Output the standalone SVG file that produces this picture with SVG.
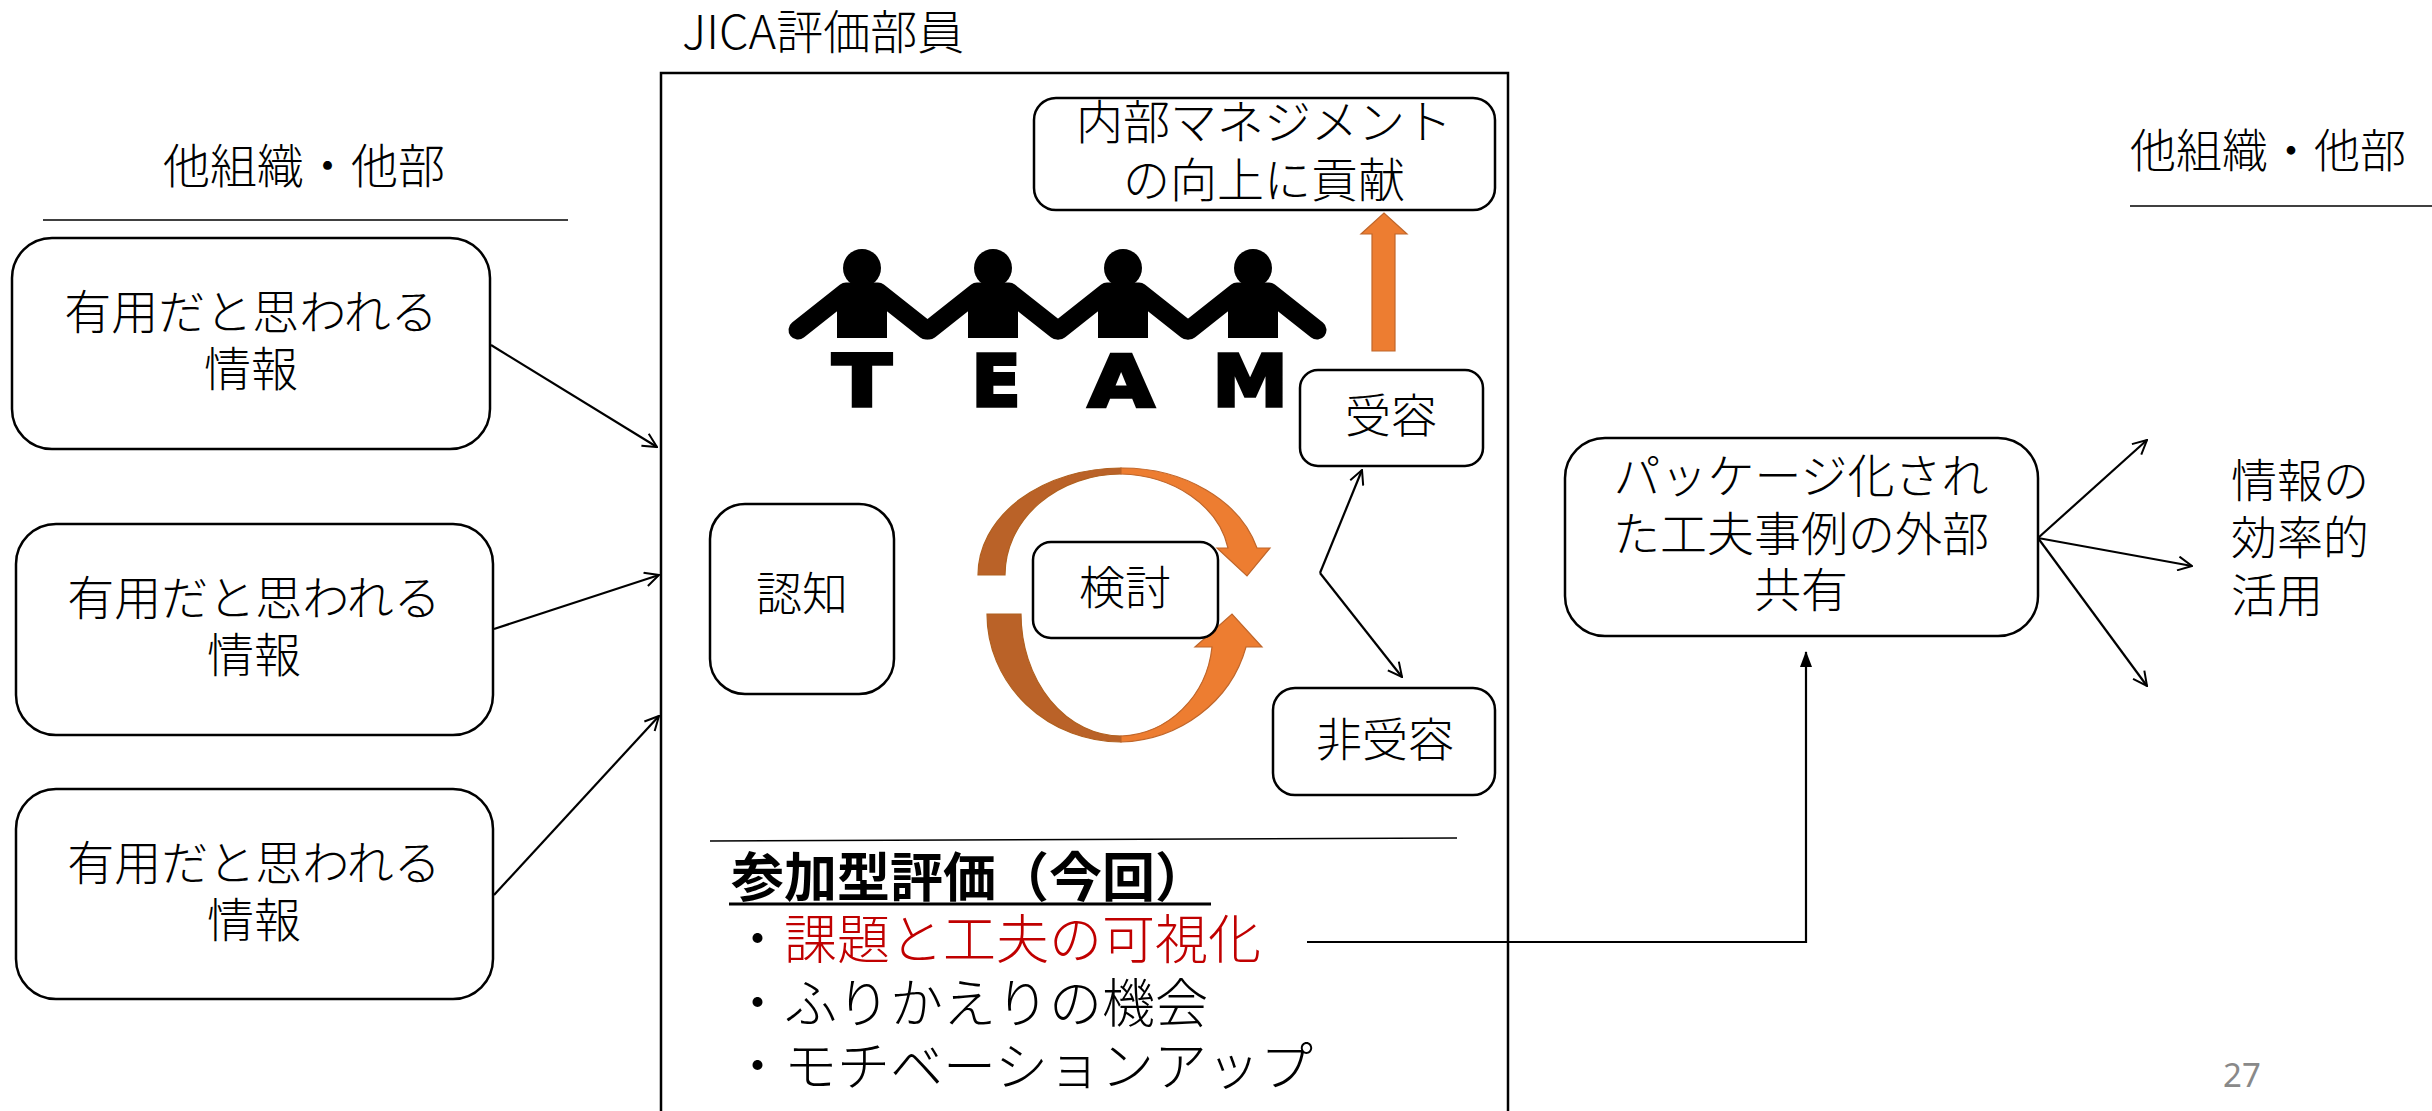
<svg xmlns="http://www.w3.org/2000/svg" width="2432" height="1111" viewBox="0 0 2432 1111">
  <style>
    text { font-family: "Noto Sans CJK JP Light", "Noto Sans CJK JP DemiLight", "Noto Sans CJK JP", "Noto Sans", sans-serif; font-weight: 300; fill: #000; }
    .l47 { font-size: 47px; }
    .l46 { font-size: 46px; }
    .mid { text-anchor: middle; }
    .big { font-size: 53px; }
    .box { fill: #fff; stroke: #000; stroke-width: 2.5; }
    .rule { stroke: #000; stroke-width: 1.5; fill: none; }
    .conn { stroke: #000; stroke-width: 2.2; fill: none; }
    .arw { marker-end: url(#open); }
    .dark { fill: #BA6228; stroke: #B0601F; stroke-width: 1.2; }
    .light { fill: #ED7D31; stroke: #C0662A; stroke-width: 1.2; }
    .team { font-family: "DejaVu Sans", sans-serif; font-weight: 700; font-size: 72px; fill: #000; stroke: #000; stroke-width: 3.5; text-anchor: middle; }
  </style>
  <defs>
    <marker id="open" viewBox="0 0 16 16" refX="15" refY="8" markerWidth="16" markerHeight="16" markerUnits="userSpaceOnUse" orient="auto">
      <path d="M1,1 L15,8 L1,15" fill="none" stroke="#000" stroke-width="2"/>
    </marker>
    <marker id="solid" viewBox="0 0 16 16" refX="15" refY="8" markerWidth="16" markerHeight="16" markerUnits="userSpaceOnUse" orient="auto">
      <path d="M0,2 L16,8 L0,14 Z" fill="#000"/>
    </marker>
    <!-- one figure of the team logo, centred on x = 0 -->
    <g id="person">
      <circle cx="0" cy="268" r="19"/>
      <rect x="-25" y="291" width="50" height="47"/>
      <polyline points="-64,330 -16,292 16,292 64,330" fill="none" stroke="#000" stroke-width="19" stroke-linecap="round" stroke-linejoin="round"/>
    </g>
  </defs>

  <rect width="2432" height="1111" fill="#fff"/>

  <!-- outer labels -->
  <g id="label-left">
    <text class="l47 mid" x="304" y="183">他組織・他部</text>
    <line class="rule" x1="43" y1="220" x2="568" y2="220"/>
  </g>
  <g id="label-right">
    <text class="l46" x="2130" y="167">他組織・他部</text>
    <line class="rule" x1="2130" y1="206" x2="2432" y2="206"/>
  </g>
  <g id="label-jica">
    <text class="l47" x="682" y="49">JICA評価部員</text>
  </g>

  <!-- evaluation department frame -->
  <g id="frame-jica">
    <rect x="661" y="73" width="847" height="1060" fill="none" stroke="#000" stroke-width="2.5"/>
  </g>

  <!-- incoming information -->
  <g id="info-1">
    <rect class="box" x="12" y="238" width="478" height="211" rx="40"/>
    <text class="l47 mid" x="251" y="329">有用だと思われる</text>
    <text class="l47 mid" x="251" y="386">情報</text>
  </g>
  <g id="info-2">
    <rect class="box" x="16" y="524" width="477" height="211" rx="40"/>
    <text class="l47 mid" x="254" y="615">有用だと思われる</text>
    <text class="l47 mid" x="254" y="672">情報</text>
  </g>
  <g id="info-3">
    <rect class="box" x="16" y="789" width="477" height="210" rx="40"/>
    <text class="l47 mid" x="254" y="880">有用だと思われる</text>
    <text class="l47 mid" x="254" y="937">情報</text>
  </g>

  <!-- team logo -->
  <g id="team-logo" fill="#000">
    <use href="#person" x="862"/>
    <use href="#person" x="993"/>
    <use href="#person" x="1123"/>
    <use href="#person" x="1253"/>
    <text class="team" transform="translate(862,406) scale(1.2,1)">T</text>
    <text class="team" transform="translate(996,406)">E</text>
    <text class="team" transform="translate(1121,406) scale(1.18,1)">A</text>
    <text class="team" transform="translate(1250,406) scale(1.05,1)">M</text>
  </g>

  <!-- review cycle -->
  <g id="cycle">
    <path class="dark" d="M978,575 A143,107 0 0 1 1121,468 L1121,474 A116,101 0 0 0 1005,575 Z"/>
    <path class="light" d="M1121,468 A140,110 0 0 1 1257,548 L1270,548 L1247,576 L1217,548 L1228,548 A112,90 0 0 0 1121,474 Z"/>
    <path class="dark" d="M987,614 A134,128 0 0 0 1121,742 L1121,736 A100,122 0 0 1 1021,614 Z"/>
    <path class="light" d="M1121,742 A134,128 0 0 0 1246,647 L1262,647 L1232,614 L1195,647 L1212,647 A95,100 0 0 1 1121,736 Z"/>
  </g>

  <g id="node-mgmt">
    <rect class="box" x="1034" y="98" width="461" height="112" rx="22"/>
    <text class="l47 mid" x="1264" y="139">内部マネジメント</text>
    <text class="l47 mid" x="1264" y="197">の向上に貢献</text>
  </g>
  <g id="node-accept">
    <rect class="box" x="1300" y="370" width="183" height="96" rx="18"/>
    <text class="l46 mid" x="1391" y="432">受容</text>
  </g>
  <g id="node-recognize">
    <rect class="box" x="710" y="504" width="184" height="190" rx="35"/>
    <text class="l46 mid" x="802" y="610">認知</text>
  </g>
  <g id="node-review">
    <rect class="box" x="1033" y="542" width="185" height="96" rx="18"/>
    <text class="l46 mid" x="1125" y="604">検討</text>
  </g>
  <g id="node-reject">
    <rect class="box" x="1273" y="688" width="222" height="107" rx="22"/>
    <text class="l46 mid" x="1385" y="756">非受容</text>
  </g>

  <!-- participatory evaluation notes -->
  <g id="notes">
    <line class="rule" x1="710" y1="841" x2="1457" y2="838"/>
    <text class="big" x="731" y="897" style="font-family:'Noto Sans CJK JP',sans-serif;font-weight:700">参加型評価（今回）</text>
    <line x1="729" y1="904" x2="1211" y2="904" stroke="#000" stroke-width="3"/>
    <text class="big" x="731" y="959">・<tspan fill="#C00000">課題と工夫の可視化</tspan></text>
    <text class="big" x="731" y="1023">・ふりかえりの機会</text>
    <text class="big" x="731" y="1086">・モチベーションアップ</text>
  </g>

  <g id="node-package">
    <rect class="box" x="1565" y="438" width="473" height="198" rx="40"/>
    <text class="l47 mid" x="1801" y="493">パッケージ化され</text>
    <text class="l47 mid" x="1801" y="551">た工夫事例の外部</text>
    <text class="l47 mid" x="1801" y="607">共有</text>
  </g>
  <g id="node-use">
    <text class="l46" x="2231" y="497">情報の</text>
    <text class="l46" x="2231" y="554">効率的</text>
    <text class="l46" x="2231" y="612">活用</text>
  </g>

  <g id="page-number">
    <text x="2223" y="1087" style="font-family:'Noto Sans',sans-serif;font-size:33px;fill:#898989;font-weight:400">27</text>
  </g>

  <!-- connectors -->
  <g id="connectors">
    <line class="conn arw" x1="491" y1="345" x2="657" y2="447"/>
    <line class="conn arw" x1="494" y1="629" x2="659" y2="575"/>
    <line class="conn arw" x1="494" y1="895" x2="659" y2="716"/>
    <line class="conn arw" x1="1320" y1="573" x2="1362" y2="470"/>
    <line class="conn arw" x1="1320" y1="573" x2="1402" y2="677"/>
    <polyline class="conn" points="1307,942 1806,942 1806,652" style="marker-end:url(#solid)"/>
    <line class="conn arw" x1="2038" y1="538" x2="2147" y2="440"/>
    <line class="conn arw" x1="2038" y1="538" x2="2192" y2="566"/>
    <line class="conn arw" x1="2038" y1="538" x2="2147" y2="686"/>
    <path d="M1372,351 L1372,234 L1361,234 L1384,213 L1407,234 L1395,234 L1395,351 Z" fill="#ED7D31" stroke="#C0662A" stroke-width="1.2"/>
  </g>
</svg>
